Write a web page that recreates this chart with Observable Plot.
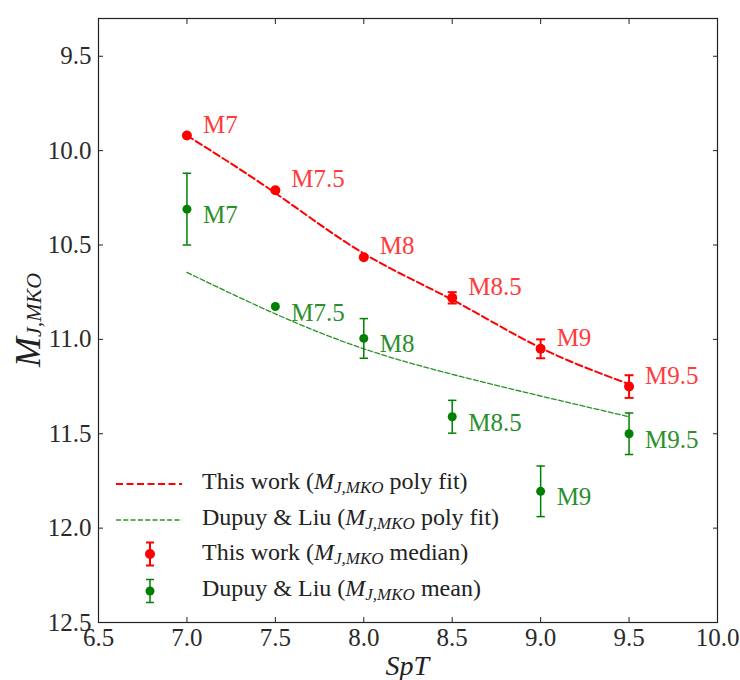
<!DOCTYPE html>
<html><head><meta charset="utf-8">
<script src="https://cdn.jsdelivr.net/npm/d3@7"></script>
<script src="https://cdn.jsdelivr.net/npm/@observablehq/plot@0.6"></script>
<style>body{margin:0;background:#fff}#chart{width:740px;height:680px}</style>
</head><body><div id="chart"></div>
<script>
// ---- data ----
const spt = [7.0, 7.5, 8.0, 8.5, 9.0, 9.5];
const sptLabels = ["M7", "M7.5", "M8", "M8.5", "M9", "M9.5"];
const thisMedian = [9.92, 10.21, 10.565, 10.78, 11.05, 11.25];
const thisErr = [0.01, 0.01, 0.015, 0.03, 0.05, 0.06];
const dupuyMean = [10.31, 10.826, 10.995, 11.41, 11.805, 11.50];
const dupuyErr = [0.19, 0.0, 0.105, 0.087, 0.134, 0.11];
const thisFit = [9.92, 10.225, 10.545, 10.79, 11.045, 11.237];
const dupuyFit = [10.645, 10.865, 11.05, 11.185, 11.30, 11.41];
const xTicks = [6.5, 7.0, 7.5, 8.0, 8.5, 9.0, 9.5, 10.0];
const yTicks = [9.5, 10.0, 10.5, 11.0, 11.5, 12.0, 12.5];
const legendLabels = [
  ["This work (", " poly fit)"],
  ["Dupuy & Liu (", " poly fit)"],
  ["This work (", " median)"],
  ["Dupuy & Liu (", " mean)"]
];

// ---- tables ----
const mk = (vals, errs) => spt.map((x, i) => ({x, y: vals[i], lo: vals[i] - errs[i], hi: vals[i] + errs[i], label: sptLabels[i]}));
const redPts = mk(thisMedian, thisErr);
const grnPts = mk(dupuyMean, dupuyErr);
const redFit = spt.map((x, i) => ({x, y: thisFit[i]}));
const grnFit = spt.map((x, i) => ({x, y: dupuyFit[i]}));
const capSymbol = {draw(ctx, size) { const w = Math.sqrt(size / Math.PI); ctx.moveTo(-w, 0); ctx.lineTo(w, 0); }};

const RED = "#ff0000", GREEN = "#008000";
const FONT = "'Liberation Serif', 'DejaVu Serif', serif";

const plot = Plot.plot({
  width: 740, height: 680,
  marginLeft: 98, marginRight: 23, marginTop: 18, marginBottom: 58,
  style: {fontFamily: FONT, fontSize: "25px", background: "white", color: "#2a2a2a"},
  x: {domain: [6.5, 10]},
  y: {domain: [9.3, 12.5], reverse: true},
  marks: [
    Plot.line(grnFit, {x: "x", y: "y", stroke: GREEN, strokeWidth: 1.3, strokeDasharray: "5,2.3", curve: "natural", strokeOpacity: 0.85}),
    Plot.line(redFit, {x: "x", y: "y", stroke: RED, strokeWidth: 2, strokeDasharray: "7,3.5", curve: "natural"}),
    Plot.ruleX(grnPts.filter(d => d.hi > d.lo), {x: "x", y1: "lo", y2: "hi", stroke: GREEN, strokeWidth: 1.5}),
    Plot.dot(grnPts.filter(d => d.hi > d.lo).flatMap(d => [{x: d.x, y: d.lo}, {x: d.x, y: d.hi}]), {x: "x", y: "y", symbol: capSymbol, r: 4.2, fill: "none", stroke: GREEN, strokeWidth: 1.5}),
    Plot.ruleX(redPts, {x: "x", y1: "lo", y2: "hi", stroke: RED, strokeWidth: 2}),
    Plot.dot(redPts.filter(d => d.hi - d.lo > 0.05).flatMap(d => [{x: d.x, y: d.lo}, {x: d.x, y: d.hi}]), {x: "x", y: "y", symbol: capSymbol, r: 4.5, fill: "none", stroke: RED, strokeWidth: 2}),
    Plot.dot(grnPts, {x: "x", y: "y", r: 4.5, fill: GREEN}),
    Plot.dot(redPts, {x: "x", y: "y", r: 5, fill: RED}),
    Plot.text(redPts, {x: "x", y: "y", text: "label", dx: 16, dy: -11, textAnchor: "start", fill: "#ff3b3b", fontSize: 25}),
    Plot.text(grnPts, {x: "x", y: "y", text: "label", dx: 16, dy: 6, textAnchor: "start", fill: "#2b902b", fontSize: 25}),
    Plot.frame({stroke: "#222", strokeWidth: 1.2}),
    Plot.axisX({ticks: xTicks, tickSize: -5, tickPadding: 11, tickFormat: d3.format(".1f"), label: null, fontSize: 25, stroke: "#222"}),
    Plot.axisX({anchor: "top", ticks: xTicks, tickSize: -5, tickFormat: () => "", label: null, stroke: "#222"}),
    Plot.axisY({ticks: yTicks, tickSize: -5, tickPadding: 12, tickFormat: d3.format(".1f"), label: null, fontSize: 25, stroke: "#222"}),
    Plot.axisY({anchor: "right", ticks: yTicks, tickSize: -5, tickFormat: () => "", label: null, stroke: "#222"})
  ]
});
document.getElementById("chart").appendChild(plot);

// ---- axis titles and legend (rich text) ----
const svg = d3.select(plot);
const yl = svg.append("text").attr("transform", "translate(40,320) rotate(-90)")
  .attr("text-anchor", "middle").attr("font-family", FONT).attr("font-style", "italic").attr("fill", "#222");
yl.append("tspan").attr("font-size", 36).text("M");
yl.append("tspan").attr("font-size", 22).attr("dy", 1).text("J,MKO");

svg.append("text").attr("x", 407.4).attr("y", 675).attr("text-anchor", "middle")
  .attr("font-family", FONT).attr("font-style", "italic").attr("font-size", 28).attr("fill", "#222").text("SpT");

const baselines = [489, 525, 560, 596];
const lg = svg.append("g").attr("font-family", FONT).attr("fill", "#222").attr("text-anchor", "start");
legendLabels.forEach(([pre, post], i) => {
  const b = baselines[i];
  const t = lg.append("text").attr("x", 202).attr("y", b).attr("font-size", 24).attr("text-anchor", "start");
  t.append("tspan").text(pre);
  t.append("tspan").attr("font-style", "italic").text("M");
  t.append("tspan").attr("font-style", "italic").attr("font-size", 17).attr("dy", 4).text("J,MKO");
  t.append("tspan").attr("dy", -4).text(post);
});
// line samples
lg.append("line").attr("x1", 116).attr("x2", 182).attr("y1", 484).attr("y2", 484)
  .attr("stroke", RED).attr("stroke-width", 2).attr("stroke-dasharray", "7,3.5");
lg.append("line").attr("x1", 116).attr("x2", 182).attr("y1", 520).attr("y2", 520)
  .attr("stroke", GREEN).attr("stroke-width", 1.3).attr("stroke-dasharray", "5,2.3").attr("stroke-opacity", 0.85);
// errorbar samples
[[554, RED, 2, 5], [591, GREEN, 1.5, 4.5]].forEach(([cy, c, w, r]) => {
  const h = 11.5;
  lg.append("line").attr("x1", 150).attr("x2", 150).attr("y1", cy - h).attr("y2", cy + h).attr("stroke", c).attr("stroke-width", w);
  lg.append("line").attr("x1", 146).attr("x2", 154).attr("y1", cy - h).attr("y2", cy - h).attr("stroke", c).attr("stroke-width", w);
  lg.append("line").attr("x1", 146).attr("x2", 154).attr("y1", cy + h).attr("y2", cy + h).attr("stroke", c).attr("stroke-width", w);
  lg.append("circle").attr("cx", 150).attr("cy", cy).attr("r", r).attr("fill", c);
});
</script>
</body></html>
